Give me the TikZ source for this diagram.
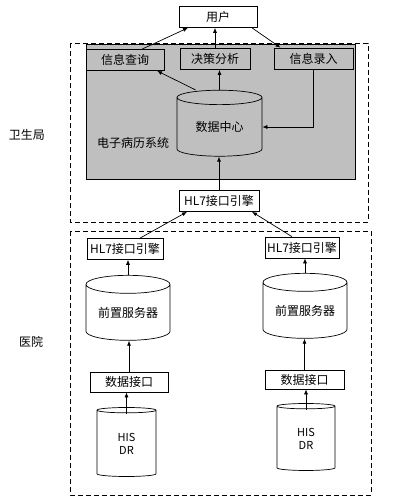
\documentclass[tikz,border=0pt]{standalone}
\usepackage{fontspec}
\setmainfont{Noto Sans CJK SC}
\usetikzlibrary{shapes.geometric,arrows.meta,calc}
\begin{document}
\begin{tikzpicture}[x=1pt,y=-1pt,font=\fontsize{12}{13}\selectfont,line width=0.7pt,
  box/.style={draw,inner sep=0pt,minimum height=21},
  db/.style={draw,cylinder,shape border rotate=90,aspect=0.3,inner sep=0pt},
  arr/.style={-{Latex[length=5pt,width=4pt]}},
  zone/.style={draw,dash pattern=on 5pt off 3pt}]
\useasboundingbox (0,0) rectangle (409,503);
% 卫生局
\draw[zone] (70,43) rectangle (368,222);
\filldraw[fill=black!25] (86,44) rectangle (355,179);
\node (wsj) at (27,135) {卫生局};
\node[box,fill=white,minimum width=78] (user) at (218,17) {用户};
\node[box,minimum width=78] (query) at (125,60) {信息查询};
\node[box,minimum width=70] (decide) at (215,59) {决策分析};
\node[box,minimum width=79] (entry) at (313.5,58.5) {信息录入};
\node[db,minimum width=85,minimum height=66] (dc) at (219.5,127) {数据中心};
\node (emr) at (133,143) {电子病历系统};
\node[box,fill=white,minimum width=80] (hl7) at (219,201) {HL7接口引擎};
% 医院
\draw[zone] (70,231) rectangle (371,495);
\node (yy) at (31,342) {医院};
\node[box,minimum width=76] (hl7a) at (125,249) {HL7接口引擎};
\node[box,minimum width=74] (hl7b) at (302,247.5) {HL7接口引擎};
\node[db,minimum width=84,minimum height=65] (srva) at (128,312.5) {前置服务器};
\node[db,minimum width=84,minimum height=65] (srvb) at (305,310.5) {前置服务器};
\node[box,minimum width=78,minimum height=20] (ifa) at (129,382) {数据接口};
\node[box,minimum width=79,minimum height=19] (ifb) at (304.5,379.5) {数据接口};
\node[db,minimum width=59,minimum height=69,align=center,font=\fontsize{11}{13}\selectfont] (hisa) at (126.5,443.5) {HIS\\DR};
\node[db,minimum width=58,minimum height=67,align=center,font=\fontsize{11}{13}\selectfont] (hisb) at (306,438.5) {HIS\\DR};
% arrows
\draw[arr] ($(query.north)+(17,0)$) -- ($(user.south)+(-30,0)$);
\draw[arr] (decide.north) -- (decide.north |- user.south);
\draw[arr] ($(user.south)+(34,0)$) -- ($(entry.north)+(-33,0)$);
\draw[arr] (dc.north) -- (dc.north |- decide.south);
\draw[arr] ($(dc.north)+(-24,0)$) -- ($(query.south)+(32,0)$);
\draw[arr] (entry.south) |- (dc.east);
\draw[arr] (hl7.north) -- (hl7.north |- dc.south);
\draw[arr] ($(hl7a.north)+(15,0)$) -- ($(hl7.south)+(-32,0)$);
\draw[arr] ($(hl7b.north)+(-10,0)$) -- ($(hl7.south)+(33,0)$);
\draw[arr] (srva.north) -- (srva.north |- hl7a.south);
\draw[arr] (srvb.north) -- (srvb.north |- hl7b.south);
\draw[arr] (ifa.north) -- (ifa.north |- srva.south);
\draw[arr] (ifb.north) -- (ifb.north |- srvb.south);
\draw[arr] ($(hisa.north)+(0,7)$) -- (hisa.north |- ifa.south);
\draw[arr] ($(hisb.north)+(0,7)$) -- (hisb.north |- ifb.south);
\end{tikzpicture}
\end{document}
